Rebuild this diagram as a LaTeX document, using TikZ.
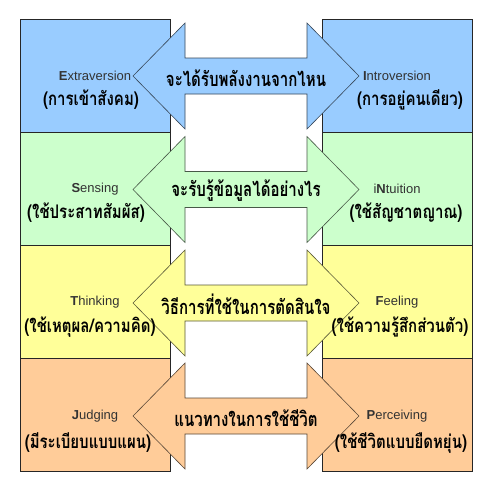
\documentclass[tikz,border=0pt]{standalone}
\usepackage{fontspec}
\newfontfamily\thai[Script=Thai]{Loma}
\newfontfamily\arl{Liberation Sans}
\definecolor{cBlue}{HTML}{99CCFF}
\definecolor{cGreen}{HTML}{CCFFCC}
\definecolor{cYellow}{HTML}{FFFF99}
\definecolor{cOrange}{HTML}{FFCC99}
\newcommand\tmid[1]{\scalebox{0.94}[1.25]{#1}}
\newcommand\tbrk[1]{\scalebox{1}[1.25]{#1}}
\tikzset{
  box/.style={draw=black!85, line width=0.8pt, minimum width=150pt, minimum height=113pt, inner sep=0pt},
  arr/.style={line width=0.6pt, draw=#1!35!black, fill=#1},
  eng/.style={font=\arl\fontsize{13}{15}\selectfont, text=black!80, inner sep=0pt},
  thb/.style={font=\thai\bfseries\fontsize{15}{18}\selectfont, inner sep=0pt},
  thm/.style={font=\thai\bfseries\fontsize{16}{19}\selectfont, inner sep=0pt},
}
\newcommand\dblarr[3]{%
  \filldraw[arr=#2] (133,#1) coordinate (#3L) -- (185,#1-53) -- (185,#1-18) -- (307,#1-18)
   -- (307,#1-53) -- (359,#1) coordinate (#3R) -- (307,#1+53) -- (307,#1+18) -- (185,#1+18)
   -- (185,#1+53) -- cycle;
  \coordinate (#3C) at (246,#1);}
\begin{document}
\begin{tikzpicture}[x=1pt,y=-1pt]
\useasboundingbox (0,0) rectangle (491,491);
\fill[white] (0,0) rectangle (491,491);
% boxes
\node[box, fill=cBlue]   (bE) at (95,75.5) {};
\node[box, fill=cGreen]  (bS) at (95,188.5) {};
\node[box, fill=cYellow] (bT) at (95,301.5) {};
\node[box, fill=cOrange] (bJ) at (95,414.5) {};
\node[box, fill=cBlue]   (bI) at (397,75.5) {};
\node[box, fill=cGreen]  (bN) at (397,188.5) {};
\node[box, fill=cYellow] (bF) at (397,301.5) {};
\node[box, fill=cOrange] (bP) at (397,414.5) {};
% arrows
\dblarr{76}{cBlue}{a1}
\dblarr{189.5}{cGreen}{a2}
\dblarr{303}{cYellow}{a3}
\dblarr{416}{cOrange}{a4}
% middle texts
\node[thm] (m1) at (246,78) {\tmid{จะได้รับพลังงานจากไหน}};
\node[thm] (m2) at (246,191) {\tmid{จะรับรู้ข้อมูลได้อย่างไร}};
\node[thm] (m3) at (246,304) {\tmid{วิธีการที่ใช้ในการตัดสินใจ}};
\node[thm] (m4) at (246,418) {\tmid{แนวทางในการใช้ชีวิต}};
% english labels
\node[eng] (tE) at (95,76)  {\textbf{E}xtraversion};
\node[eng] (tI) at (397,76) {\textbf{I}ntroversion};
\node[eng] (tS) at (95,189) {\textbf{S}ensing};
\node[eng] (tN) at (397,189) {i\textbf{N}tuition};
\node[eng] (tT) at (95,302) {\textbf{T}hinking};
\node[eng] (tF) at (397,302) {\textbf{F}eeling};
\node[eng] (tJ) at (95,416) {\textbf{J}udging};
\node[eng] (tP) at (397,416) {\textbf{P}erceiving};
% thai bracket labels
\node[thb] (uE) at (91,100)  {\tbrk{(การเข้าสังคม)}};
\node[thb] (uI) at (410,100) {\tbrk{(การอยู่คนเดียว)}};
\node[thb] (uS) at (86,213)  {\tbrk{(ใช้ประสาทสัมผัส)}};
\node[thb] (uN) at (406,213) {\tbrk{(ใช้สัญชาตญาณ)}};
\node[thb] (uT) at (90,327)  {\tbrk{(ใช้เหตุผล/ความคิด)}};
\node[thb] (uF) at (400,327) {\tbrk{(ใช้ความรู้สึกส่วนตัว)}};
\node[thb] (uJ) at (88,443)  {\tbrk{(มีระเบียบแบบแผน)}};
\node[thb] (uP) at (401,443) {\tbrk{(ใช้ชีวิตแบบยืดหยุ่น)}};
\end{tikzpicture}
\end{document}
